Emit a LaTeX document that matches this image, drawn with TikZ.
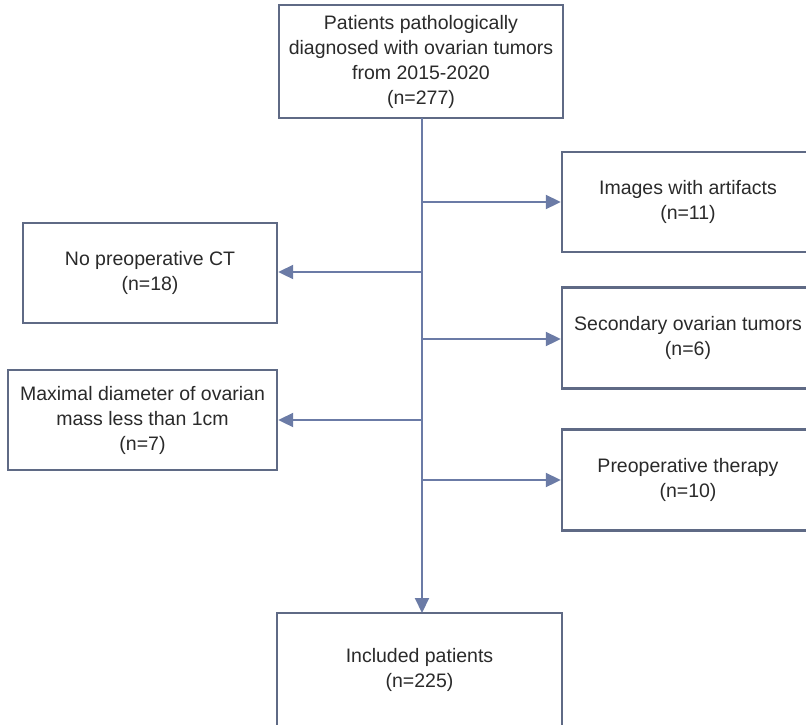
\documentclass[tikz,border=0pt]{standalone}
\usepackage{fontspec}
\setmainfont{Liberation Sans}
\usetikzlibrary{arrows.meta}
\definecolor{linec}{HTML}{6B7BA6}
\definecolor{boxc}{HTML}{5F6A85}
\definecolor{txtc}{HTML}{2A2A2A}
\begin{document}
\begin{tikzpicture}[x=1pt,y=-1pt,
  box/.style={draw=boxc,line width=2.4pt,rectangle,align=center,text=txtc,
    font=\fontsize{19.5}{25}\selectfont,inner sep=0pt},
  conn/.style={draw=linec,line width=2pt,-{Triangle[length=15pt,width=14pt]}},
  trunk/.style={draw=linec,line width=2pt}]
\useasboundingbox (0,0) rectangle (806,724);
\clip (0,0) rectangle (806,724);
\fill[white] (0,0) rectangle (806,724);
\node[box,minimum width=284pt,minimum height=113pt] (top) at (421,61.5)
  {Patients pathologically\\diagnosed with ovarian tumors\\from 2015-2020\\(n=277)};
\node[box,minimum width=252pt,minimum height=100pt] (img) at (688,202)
  {Images with artifacts\\(n=11)};
\node[box,minimum width=254pt,minimum height=100pt] (noct) at (150,273)
  {No preoperative CT\\(n=18)};
\node[box,minimum width=252pt,minimum height=101pt] (sec) at (688,338)
  {Secondary ovarian tumors\\(n=6)};
\node[box,minimum width=269pt,minimum height=100pt] (max) at (142.5,420)
  {Maximal diameter of ovarian\\mass less than 1cm\\(n=7)};
\node[box,minimum width=252pt,minimum height=101pt] (pre) at (688,480)
  {Preoperative therapy\\(n=10)};
\node[box,minimum width=285pt,minimum height=114pt] (inc) at (419.5,670)
  {Included patients\\(n=225)};
\coordinate (t0) at (422,118);
\coordinate (t1) at (422,202);
\coordinate (t2) at (422,272);
\coordinate (t3) at (422,339);
\coordinate (t4) at (422,420);
\coordinate (t5) at (422,480);
\coordinate (tend) at (422,613);
\draw[conn] (t0) -- (tend);
\draw[conn] (t1) -- (t1 -| img.west);
\draw[conn] (t2) -- (t2 -| noct.east);
\draw[conn] (t3) -- (t3 -| sec.west);
\draw[conn] (t4) -- (t4 -| max.east);
\draw[conn] (t5) -- (t5 -| pre.west);
\end{tikzpicture}
\end{document}
